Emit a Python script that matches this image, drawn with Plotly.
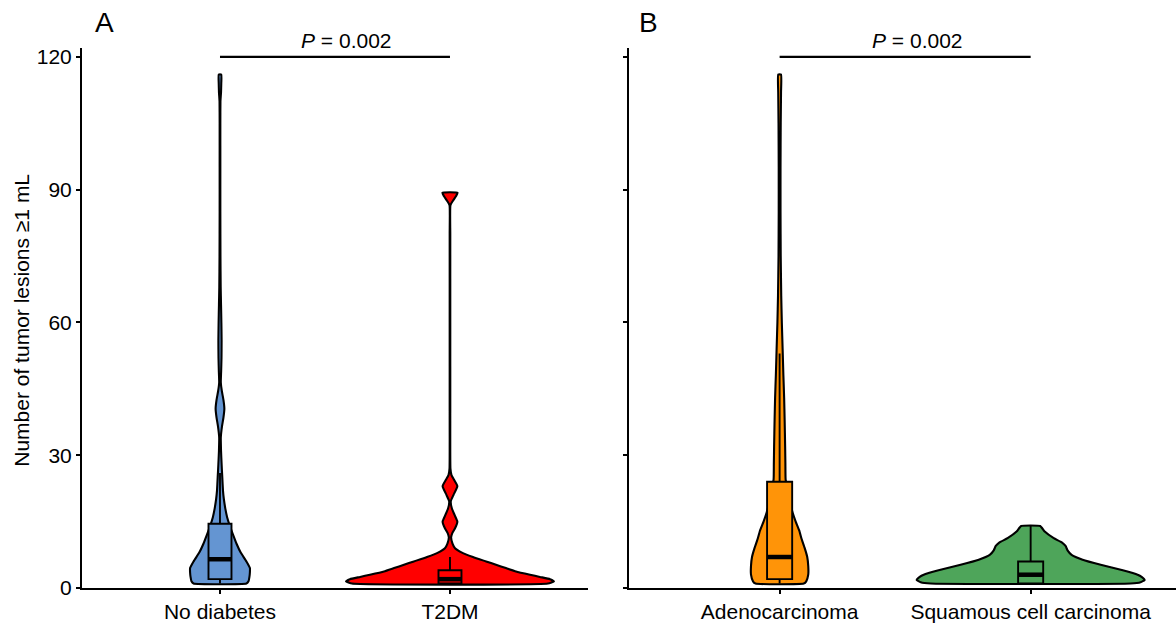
import plotly.graph_objects as go

# ---------------- data ----------------
cats_a = ["No diabetes", "T2DM"]
cats_b = ["Adenocarcinoma", "Squamous cell carcinoma"]
y_ticks = [0, 30, 60, 90, 120]
p_text_a = "<i>P</i> = 0.002"
p_text_b = "<i>P</i> = 0.002"
y_title = "Number of tumor lesions ≥1 mL"

# violin profiles: value levels and half-width (category units)
nodiab_y = [1.0, 1.5, 2.5, 3.5, 4.5, 6, 8, 10, 12, 14, 16, 18, 20, 22, 25, 28, 31, 34,
            36.5, 38.5, 40.5, 42.5, 44.5, 46.5, 49, 52, 56, 60, 64, 68, 75, 85, 95, 105,
            110, 112, 114, 116]
nodiab_w = [0.115, 0.124, 0.128, 0.130, 0.130, 0.115, 0.090, 0.072, 0.057, 0.043, 0.031,
            0.023, 0.017, 0.013, 0.010, 0.007, 0.0045, 0.0035, 0.0087, 0.015, 0.019, 0.015,
            0.008, 0.0035, 0.005, 0.0065, 0.007, 0.006, 0.0045, 0.003, 0.002, 0.0015,
            0.0015, 0.0015, 0.002, 0.0045, 0.0055, 0.0055]

t2dm_y = [1.0, 1.5, 2.0, 2.5, 3.0, 3.75, 4.5, 5.25, 6, 7, 8, 9, 10, 11.5, 12.5, 13.5, 15,
          16.5, 18, 19.6, 21, 23, 24.5, 25.5, 27, 40, 60, 80, 86.5, 87.5, 88.5, 89.3]
t2dm_w = [0.426, 0.452, 0.435, 0.391, 0.348, 0.287, 0.243, 0.200, 0.157, 0.100, 0.052,
          0.022, 0.011, 0.005, 0.011, 0.022, 0.032, 0.020, 0.008, 0.0035, 0.015, 0.032,
          0.017, 0.0065, 0.002, 0.0013, 0.0013, 0.0013, 0.002, 0.013, 0.026, 0.033]

adeno_y = [1.0, 1.5, 3, 5, 7, 9, 11, 13, 15, 17, 19, 22, 24.5, 28, 32, 38, 43, 48, 54, 60,
           66, 75, 85, 95, 105, 112, 116]
adeno_w = [0.096, 0.106, 0.114, 0.114, 0.110, 0.100, 0.088, 0.078, 0.064, 0.052, 0.043,
           0.034, 0.024, 0.023, 0.022, 0.020, 0.018, 0.015, 0.012, 0.0088, 0.0064, 0.0044,
           0.0036, 0.0036, 0.0044, 0.0056, 0.0056]

squam_y = [1.0, 1.3, 1.8, 2.5, 3.0, 4.0, 5.25, 6.4, 7.5, 8.5, 9.5, 10.3, 11.25, 12.75, 14.0]
squam_w = [0.398, 0.438, 0.454, 0.442, 0.426, 0.367, 0.279, 0.207, 0.163, 0.147, 0.139,
           0.124, 0.092, 0.056, 0.038]

# box statistics
q1_a = [2, 1]
med_a = [6.5, 2]
q3_a = [14.5, 4]
lo_a = [1, 1]
hi_a = [26, 7]

q1_b = [2, 1]
med_b = [7, 3]
q3_b = [24, 6]
lo_b = [1, 1]
hi_b = [53, 14]

# ---------------- styling ----------------
FONT = "Liberation Sans, Arial, sans-serif"
colors_a = ["#6495D2", "#FF0000"]
colors_b = ["#FF9408", "#4EA55A"]
BOX_W = 0.1
Y_RANGE = [0, 122]
XA_RANGE = [0.4, 2.6]
XB_RANGE = [0.4, 2.579]

fig = go.Figure()


def add_violin(center, ys, ws, color, xa, ya):
    xs = [center + w for w in ws] + [center - w for w in reversed(ws)] + [center + ws[0]]
    yy = list(ys) + list(reversed(ys)) + [ys[0]]
    fig.add_trace(go.Scatter(x=xs, y=yy, mode="lines", fill="toself", fillcolor=color,
                             line=dict(color="black", width=2.1, shape="spline", smoothing=0.4),
                             xaxis=xa, yaxis=ya, showlegend=False, hoverinfo="skip"))


def add_box(center, q1, med, q3, lo, hi, color, xa, ya):
    fig.add_trace(go.Box(x=[center], q1=[q1], median=[med], q3=[q3], lowerfence=[lo],
                         upperfence=[hi], width=BOX_W, fillcolor=color, whiskerwidth=0,
                         line=dict(color="black", width=1.9), boxpoints=False,
                         xaxis=xa, yaxis=ya, showlegend=False, hoverinfo="skip"))
    fig.add_trace(go.Scatter(x=[center - BOX_W / 2, center + BOX_W / 2], y=[med, med],
                             mode="lines", line=dict(color="black", width=4.5),
                             xaxis=xa, yaxis=ya, showlegend=False, hoverinfo="skip"))


# violins on base axes, boxes on overlaid axes so they are drawn on top
add_violin(1, nodiab_y, nodiab_w, colors_a[0], "x", "y")
add_violin(2, t2dm_y, t2dm_w, colors_a[1], "x", "y")
for i in range(2):
    add_box(i + 1, q1_a[i], med_a[i], q3_a[i], lo_a[i], hi_a[i], colors_a[i], "x3", "y3")

add_violin(1, adeno_y, adeno_w, colors_b[0], "x2", "y2")
add_violin(2, squam_y, squam_w, colors_b[1], "x2", "y2")
for i in range(2):
    add_box(i + 1, q1_b[i], med_b[i], q3_b[i], lo_b[i], hi_b[i], colors_b[i], "x4", "y4")

# significance brackets
for xa, ya in (("x", "y"), ("x2", "y2")):
    fig.add_trace(go.Scatter(x=[1, 2], y=[120, 120], mode="lines",
                             line=dict(color="black", width=2.2), xaxis=xa, yaxis=ya,
                             showlegend=False, hoverinfo="skip", cliponaxis=False))

fig.add_annotation(x=1.55, y=1.013, xref="x", yref="paper", text=p_text_a, showarrow=False,
                   xanchor="center", yanchor="middle",
                   font=dict(size=21, color="black", family=FONT))
fig.add_annotation(x=1.55, y=1.013, xref="x2", yref="paper", text=p_text_b, showarrow=False,
                   xanchor="center", yanchor="middle",
                   font=dict(size=21, color="black", family=FONT))

fig.add_annotation(x=0.0207, y=1.0467, xref="paper", yref="paper", text="A", showarrow=False,
                   xanchor="center", yanchor="middle", font=dict(size=28, color="black", family=FONT))
fig.add_annotation(x=0.5177, y=1.0467, xref="paper", yref="paper", text="B", showarrow=False,
                   xanchor="center", yanchor="middle", font=dict(size=28, color="black", family=FONT))

fig.add_annotation(x=-0.0548, y=0.495, xref="paper", yref="paper", text=y_title, showarrow=False,
                   textangle=-90, xanchor="center", yanchor="middle",
                   font=dict(size=21, color="black", family=FONT))

axis_common = dict(showline=True, linecolor="black", linewidth=2, ticks="outside", ticklen=4,
                   tickwidth=1.6, tickcolor="black", showgrid=False, zeroline=False,
                   tickfont=dict(size=21, color="black", family=FONT))
hidden = dict(visible=False, showgrid=False, zeroline=False)

fig.update_layout(
    width=1176, height=623,
    margin=dict(l=82, r=0, t=48, b=33),
    paper_bgcolor="white", plot_bgcolor="white",
    showlegend=False,
    xaxis=dict(domain=[0, 0.4625], range=XA_RANGE, tickvals=[1, 2], ticktext=cats_a,
               anchor="y", **axis_common),
    xaxis2=dict(domain=[0.5, 1.0], range=XB_RANGE, tickvals=[1, 2], ticktext=cats_b,
                anchor="y2", **axis_common),
    yaxis=dict(domain=[0, 1], range=Y_RANGE, tickvals=y_ticks, anchor="x", **axis_common),
    yaxis2=dict(domain=[0, 1], range=Y_RANGE, tickvals=y_ticks, showticklabels=False,
                anchor="x2", **axis_common),
    xaxis3=dict(overlaying="x", range=XA_RANGE, anchor="y3", **hidden),
    yaxis3=dict(overlaying="y", range=Y_RANGE, anchor="x3", **hidden),
    xaxis4=dict(overlaying="x2", range=XB_RANGE, anchor="y4", **hidden),
    yaxis4=dict(overlaying="y2", range=Y_RANGE, anchor="x4", **hidden),
)

fig.write_html("out.html", config={"displayModeBar": False},
               post_script="document.body.style.margin='0';document.body.style.padding='0';")
